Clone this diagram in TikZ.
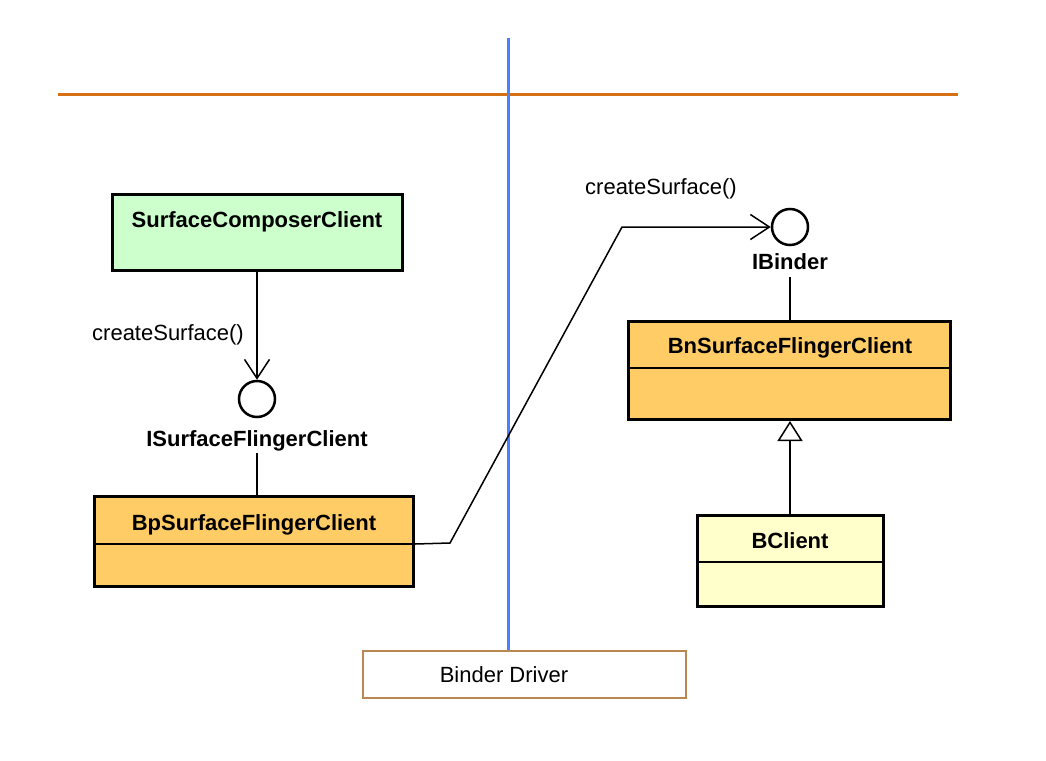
\documentclass[tikz,border=0pt]{standalone}
\usepackage{fontspec}
\setmainfont{Liberation Sans}
\usetikzlibrary{arrows.meta}
\definecolor{greenfill}{RGB}{204,255,204}
\definecolor{orangefill}{RGB}{255,204,102}
\definecolor{yellowfill}{RGB}{255,255,204}
\definecolor{orangeline}{RGB}{214,112,20}
\definecolor{blueline}{RGB}{77,128,255}
\definecolor{driverline}{RGB}{185,135,80}
\begin{document}
\begin{tikzpicture}[x=1pt,y=-1pt,
  classbox/.style={draw=black, line width=3pt, inner sep=0pt},
  titletext/.style={font=\fontsize{22}{26}\selectfont\bfseries, inner sep=2pt, anchor=base},
  plaintext/.style={font=\fontsize{22}{26}\selectfont, inner sep=2pt, anchor=base},
  iface/.style={draw=black, circle, line width=2.5pt, minimum size=36pt, inner sep=0pt, fill=white},
  conn/.style={draw=black, line width=1.5pt},
  divider/.style={draw=black, line width=1.5pt},
  opentip/.style={-{Straight Barb[length=19pt, width=25pt, line width=1.5pt]}},
  gentip/.style={-{Triangle[open, length=20pt, width=25pt, line width=1.5pt]}}
]
\useasboundingbox (0,0) rectangle (1046,760);

% boundary lines
\coordinate (hl) at (58,94);
\coordinate (hr) at (958,94);
\coordinate (vt) at (508,38);
\node[draw=driverline, line width=1.8pt, minimum width=323pt, minimum height=47pt, inner sep=0pt] (driver) at (524.5,674.5) {};
\node[plaintext] (drivertext) at (504,682) {Binder Driver};
\draw[orangeline, line width=3pt] (hl) -- (hr);
\draw[blueline, line width=3pt] (vt) -- (vt |- driver.north);

% SurfaceComposerClient
\node[classbox, fill=greenfill, minimum width=290pt, minimum height=76pt] (scc) at (257,232.5) {};
\node[titletext] (scctext) at (257,227) {SurfaceComposerClient};

% ISurfaceFlingerClient interface
\node[iface] (isf) at (257,399) {};
\node[titletext] (isflabel) at (257,446) {ISurfaceFlingerClient};

% BpSurfaceFlingerClient
\node[classbox, fill=orangefill, minimum width=319pt, minimum height=90pt] (bp) at (254,541.5) {};
\node[titletext] (bptext) at (254,530) {BpSurfaceFlingerClient};
\coordinate (bpdiv) at (254,544);
\draw[divider] (bpdiv -| bp.west) -- (bpdiv -| bp.east);

% IBinder interface
\node[iface] (ibinder) at (790,227) {};
\node[titletext] (iblabel) at (790,269) {IBinder};
\node[plaintext] (cs2) at (661,194) {createSurface()};

% BnSurfaceFlingerClient
\node[classbox, fill=orangefill, minimum width=322pt, minimum height=98pt] (bn) at (789.5,370.5) {};
\node[titletext] (bntext) at (790,353) {BnSurfaceFlingerClient};
\coordinate (bndiv) at (790,368);
\draw[divider] (bndiv -| bn.west) -- (bndiv -| bn.east);

% BClient
\node[classbox, fill=yellowfill, minimum width=186pt, minimum height=91pt] (bc) at (790,561) {};
\node[titletext] (bctext) at (790,548) {BClient};
\coordinate (bcdiv) at (790,562);
\draw[divider] (bcdiv -| bc.west) -- (bcdiv -| bc.east);

% connectors
\draw[conn, opentip] (isf.north |- scc.south) -- (isf.north);
\node[plaintext] (cs1) at (168,340) {createSurface()};
\draw[conn] (isflabel.south) -- (isflabel.south |- bp.north);

\coordinate (b1) at (450,543);
\coordinate (b2) at (622,227);
\draw[conn, opentip] (bpdiv -| bp.east) -- (b1) -- (b2) -- (ibinder.west);
\draw[conn, shorten <=6pt] (iblabel.south) -- (iblabel.south |- bn.north);
\draw[conn, gentip] (bc.north) -- (bc.north |- bn.south);
\end{tikzpicture}
\end{document}
